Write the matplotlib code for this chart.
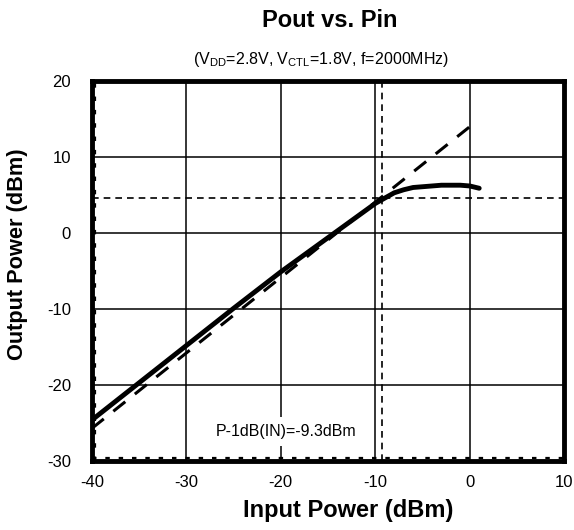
import matplotlib
matplotlib.use("Agg")
import matplotlib.pyplot as plt
import numpy as np

plt.rcParams['font.family'] = ['Liberation Sans', 'DejaVu Sans']
plt.rcParams['mathtext.fontset'] = 'custom'
plt.rcParams['mathtext.rm'] = 'Liberation Sans'
plt.rcParams['axes.unicode_minus'] = False

# measured output power (solid)
pin = [-40, -35, -30, -25, -20, -15, -12, -10, -9, -8, -7, -6, -5, -4, -3, -2, -1, 0, 1]
pout = [-24.6, -19.7, -14.8, -9.9, -5.1, -0.6, 2.1, 3.9, 4.6, 5.3, 5.7, 6.0, 6.1, 6.2, 6.3, 6.3, 6.3, 6.2, 5.9]

# ideal linear gain line (dashed)
pin_lin = [-40, 0]
pout_lin = [-25.7, 14.0]

p1db_in = -9.3
p1db_out = 4.6

xticks = [-40, -30, -20, -10, 0, 10]
yticks = [-30, -20, -10, 0, 10, 20]

fig = plt.figure(figsize=(5.74, 5.30), dpi=100)
ax = fig.add_axes([0.160, 0.130, 0.823, 0.717])

ax.set_xlim(-40, 10)
ax.set_ylim(-30, 20)
ax.set_xticks(xticks)
ax.set_yticks(yticks)
ax.grid(True, color='black', linewidth=1.1, zorder=1)
ax.set_axisbelow(True)
ax.tick_params(length=0, labelsize=12)
ax.tick_params(axis='x', pad=10)
ax.tick_params(axis='y', pad=15)

# reference cursor lines
ax.axhline(p1db_out, color='black', linewidth=1.2, linestyle=(0, (4, 3)), zorder=2)
ax.axvline(p1db_in, color='black', linewidth=1.2, linestyle=(0, (4, 3)), zorder=2)
ax.plot([-40, 10], [-29.6, -29.6], color='black', linewidth=1.6, linestyle=(0, (2, 4)), zorder=2)
ax.plot([-39.7, -39.7], [-30, 20], color='black', linewidth=1.6, linestyle=(0, (2, 4)), zorder=2)

ax.plot(pin_lin, pout_lin, color='black', linewidth=2.2, linestyle=(0, (5, 4)), zorder=3)
ax.plot(pin, pout, color='black', linewidth=3.5, solid_capstyle='round', zorder=4)

for s in ax.spines.values():
    s.set_linewidth(3.5)

ax.text(-19.4, -26.1, 'P-1dB(IN)=-9.3dBm', fontsize=11.5, ha='center', va='center',
        bbox=dict(facecolor='white', edgecolor='none', pad=5), zorder=5)

fig.text(0.606, 0.036, 'Input Power (dBm)', fontsize=17, fontweight='bold', ha='center', va='center')
fig.text(0.031, 0.521, 'Output Power (dBm)', fontsize=15.7, fontweight='bold', ha='center', va='center',
         rotation=90)

fig.text(0.575, 0.962, 'Pout vs. Pin', fontsize=17, fontweight='bold', ha='center', va='center')
fig.text(0.559, 0.887, r'(V$_{\mathrm{DD}}$=2.8V, V$_{\mathrm{CTL}}$=1.8V, f=2000MHz)',
         fontsize=11.5, ha='center', va='center')

fig.savefig('out.png', dpi=100)
